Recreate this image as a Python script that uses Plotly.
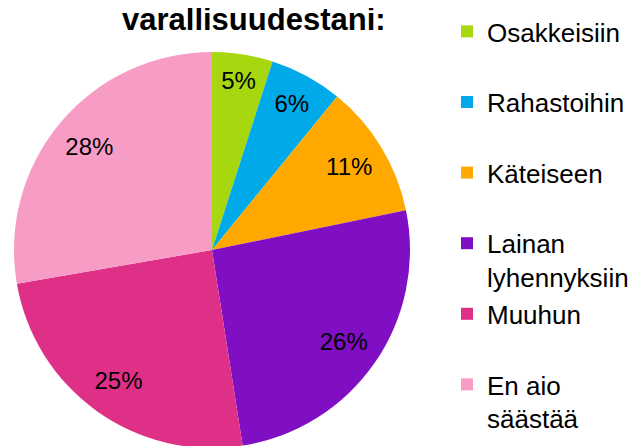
import plotly.graph_objects as go

categories = ["Osakkeisiin", "Rahastoihin", "Käteiseen", "Lainan<br>lyhennyksiin", "Muuhun", "En aio<br>säästää"]
values = [5, 6, 11, 26, 25, 28]
colors = ["#A6D70F", "#00A9E8", "#FFA800", "#800EC2", "#DF3087", "#F79CC4"]
title_text = "varallisuudestani:"

# pad single-line legend labels so each legend entry occupies two lines
legend_labels = [c if "<br>" in c else c + "<br> " for c in categories]

W, H = 637, 446
# the page adds an 8px body margin, so figure coordinates are screen - 8
R = 198
cx, cy = 204, 242
dom = dict(x=[(cx - R) / W, (cx + R) / W], y=[(H - cy - R) / H, (H - cy + R) / H])

fig = go.Figure()
fig.add_trace(go.Pie(
    labels=legend_labels,
    values=values,
    sort=False,
    direction="clockwise",
    rotation=0,
    marker=dict(colors=colors, line=dict(width=0)),
    textinfo="none",
    domain=dom,
    hoverinfo="label+percent",
))
# transparent ring carrying the percentage labels further out from the centre
fig.add_trace(go.Pie(
    labels=legend_labels,
    values=values,
    sort=False,
    direction="clockwise",
    rotation=0,
    hole=0.62,
    marker=dict(colors=["rgba(0,0,0,0)"] * len(values), line=dict(width=0)),
    texttemplate="%{percent:.0%}",
    textposition="inside",
    insidetextorientation="horizontal",
    textfont=dict(family="Liberation Sans", size=24, color="#000000"),
    domain=dom,
    showlegend=False,
    hoverinfo="skip",
))

fig.update_layout(
    width=W, height=H,
    margin=dict(l=0, r=0, t=0, b=0),
    paper_bgcolor="white",
    plot_bgcolor="white",
    annotations=[dict(
        text="<b>" + title_text + "</b>",
        xref="paper", yref="paper",
        x=246 / W, xanchor="center",
        y=1, yanchor="top", yshift=8,
        showarrow=False,
        font=dict(family="Liberation Sans", size=31, color="#000000"),
    )],
    legend=dict(
        x=439 / W, xanchor="left",
        y=1, yanchor="top",
        valign="top",
        font=dict(family="Liberation Sans", size=26, color="#000000"),
        bgcolor="rgba(0,0,0,0)",
    ),
    showlegend=True,
)

fig.write_html("out.html")
